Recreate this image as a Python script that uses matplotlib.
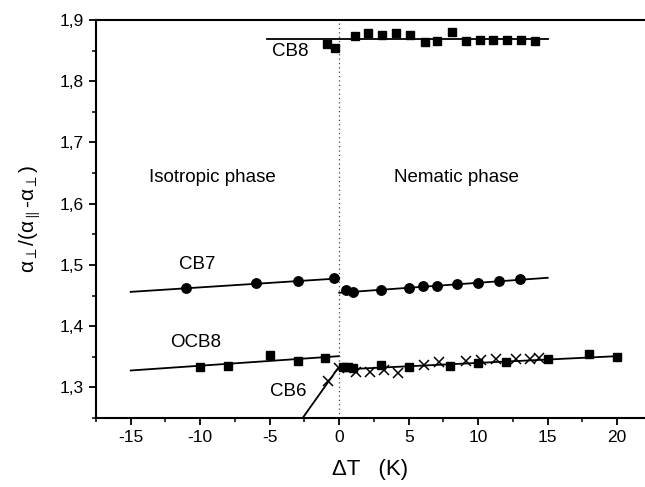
import matplotlib
matplotlib.use("Agg")
import matplotlib.pyplot as plt
from matplotlib.ticker import MultipleLocator, FuncFormatter

plt.rcParams['font.family'] = ['Liberation Sans', 'DejaVu Sans']
plt.rcParams['mathtext.fontset'] = 'custom'
plt.rcParams['mathtext.rm'] = 'Liberation Sans'
plt.rcParams['mathtext.it'] = 'Liberation Sans'
plt.rcParams['mathtext.fallback'] = 'stixsans'
plt.rcParams['axes.unicode_minus'] = False

# ---- data ----
cb8_x = [-0.9, -0.3, 1.1, 2.1, 3.1, 4.1, 5.1, 6.2, 7.0, 8.1, 9.1, 10.1, 11.1, 12.1, 13.1, 14.1]
cb8_y = [1.861, 1.855, 1.874, 1.878, 1.875, 1.879, 1.876, 1.864, 1.865, 1.880, 1.865, 1.867, 1.867, 1.867, 1.868, 1.866]
cb8_fit_x = [-5.2, 15.0]
cb8_fit_y = [1.869, 1.869]

cb7_x = [-11.0, -6.0, -3.0, -0.4, 0.5, 1.0, 3.0, 5.0, 6.0, 7.0, 8.5, 10.0, 11.5, 13.0]
cb7_y = [1.463, 1.471, 1.474, 1.478, 1.459, 1.455, 1.459, 1.463, 1.465, 1.465, 1.469, 1.471, 1.473, 1.477]
cb7_fit_iso_x = [-15.0, 0.0]
cb7_fit_iso_y = [1.456, 1.478]
cb7_fit_nem_x = [0.0, 15.0]
cb7_fit_nem_y = [1.4545, 1.479]

ocb8_x = [-10.0, -8.0, -5.0, -3.0, -1.0, 0.3, 0.6, 1.0, 3.0, 5.0, 8.0, 10.0, 12.0, 15.0, 18.0, 20.0]
ocb8_y = [1.3335, 1.3357, 1.3526, 1.3433, 1.3472, 1.334, 1.333, 1.332, 1.336, 1.3335, 1.3346, 1.339, 1.3417, 1.3466, 1.3538, 1.350]
ocb8_fit_iso_x = [-15.0, 0.0]
ocb8_fit_iso_y = [1.3276, 1.351]
ocb8_fit_nem_x = [0.0, 20.0]
ocb8_fit_nem_y = [1.329, 1.351]

cb6_x = [-0.8, 0.0, 1.2, 2.2, 3.2, 4.2, 6.1, 7.2, 9.1, 10.2, 11.3, 12.7, 13.7, 14.4]
cb6_y = [1.310, 1.331, 1.325, 1.325, 1.328, 1.324, 1.336, 1.341, 1.343, 1.344, 1.347, 1.347, 1.347, 1.348]
cb6_fit_x = [-2.6, -0.1]
cb6_fit_y = [1.251, 1.331]

x_ticks = [-15, -10, -5, 0, 5, 10, 15, 20]

# ---- figure ----
fig = plt.figure(figsize=(6.45, 4.87), dpi=100)
ax = fig.add_axes([0.1488, 0.1417, 0.8512, 0.8172])

lw = 1.3
ax.plot(cb8_fit_x, cb8_fit_y, color='black', lw=lw)
ax.plot(cb7_fit_iso_x, cb7_fit_iso_y, color='black', lw=lw)
ax.plot(cb7_fit_nem_x, cb7_fit_nem_y, color='black', lw=lw)
ax.plot(ocb8_fit_iso_x, ocb8_fit_iso_y, color='black', lw=lw)
ax.plot(ocb8_fit_nem_x, ocb8_fit_nem_y, color='black', lw=lw)
ax.plot(cb6_fit_x, cb6_fit_y, color='black', lw=lw)

ax.axvline(0, color='#444444', lw=0.9, ls=(0, (1, 2.5)))

ax.plot(cb8_x, cb8_y, 's', color='black', ms=5.2, ls='none')
ax.plot(cb7_x, cb7_y, 'o', color='black', ms=6.8, ls='none')
ax.plot(ocb8_x, ocb8_y, 's', color='black', ms=6.2, ls='none')
ax.plot(cb6_x, cb6_y, 'x', color='black', ms=6.5, mew=1.1, ls='none')

ax.set_xlim(-17.5, 22)
ax.set_ylim(1.25, 1.9)

ax.set_xticks(x_ticks)
ax.xaxis.set_minor_locator(MultipleLocator(2.5))
ax.yaxis.set_major_locator(MultipleLocator(0.1))
ax.yaxis.set_minor_locator(MultipleLocator(0.05))
ax.yaxis.set_major_formatter(FuncFormatter(lambda v, p: f"{v:.1f}".replace('.', ',')))

ax.spines['right'].set_visible(False)
for s in ['left', 'bottom', 'top']:
    ax.spines[s].set_linewidth(1.5)
ax.tick_params(axis='both', which='major', direction='out', length=5, width=1.3, labelsize=12.5, colors='black')
ax.tick_params(axis='both', which='minor', direction='out', length=3, width=1.1)
ax.tick_params(top=False, right=False, which='both')

ax.set_xlabel('ΔT   (K)', fontsize=16, labelpad=10)
ax.set_ylabel(r'$\alpha_{\perp}/(\alpha_{\parallel}$-$\alpha_{\perp})$', fontsize=15, labelpad=12)

tfs = 13.5
ax.text(-3.5, 1.848, 'CB8', fontsize=tfs, ha='center', va='center')
ax.text(-10.2, 1.500, 'CB7', fontsize=tfs, ha='center', va='center')
ax.text(-10.3, 1.3727, 'OCB8', fontsize=tfs, ha='center', va='center')
ax.text(-3.7, 1.2926, 'CB6', fontsize=tfs, ha='center', va='center')
ax.text(-9.1, 1.643, 'Isotropic phase', fontsize=tfs, ha='center', va='center')
ax.text(8.4, 1.643, 'Nematic phase', fontsize=tfs, ha='center', va='center')

fig.savefig('out.png', dpi=100)
